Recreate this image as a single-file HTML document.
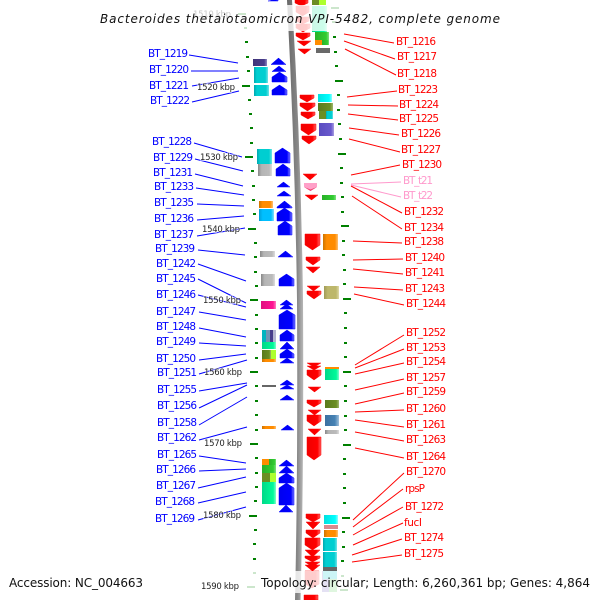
<!DOCTYPE html>
<html><head><meta charset="utf-8"><style>
html,body{margin:0;padding:0;background:#fff}
svg{display:block;filter:blur(.3px)}
text{font-family:"DejaVu Sans","Liberation Sans",sans-serif}
.b text{font-size:10.5px;fill:#0000ff}
.r text{font-size:10.5px;fill:#ff0000}
.k text{font-size:8.5px;fill:#222;stroke:#fff;stroke-width:2px;stroke-opacity:.5;paint-order:stroke}
</style></head><body>
<svg width="600" height="600" viewBox="0 0 600 600" xmlns="http://www.w3.org/2000/svg">
<defs>
<linearGradient id="gB"><stop offset="0" stop-color="#0000f0"/><stop offset=".8" stop-color="#0000ff"/><stop offset="1" stop-color="#8080ff"/></linearGradient>
<linearGradient id="gR"><stop offset="0" stop-color="#f00000"/><stop offset=".75" stop-color="#ff0000"/><stop offset="1" stop-color="#ff6060"/></linearGradient>
<linearGradient id="gBk"><stop offset="0" stop-color="#666"/><stop offset=".65" stop-color="#888"/><stop offset="1" stop-color="#b8b8b8"/></linearGradient>
<linearGradient id="c1"><stop offset="0" stop-color="#00a8b0"/><stop offset=".2" stop-color="#00ced1"/><stop offset=".8" stop-color="#00ced1"/><stop offset="1" stop-color="#70e4e8"/></linearGradient>
<linearGradient id="c2"><stop offset="0" stop-color="#00e0e0"/><stop offset=".8" stop-color="#00ffff"/><stop offset="1" stop-color="#90ffff"/></linearGradient>
<linearGradient id="c3"><stop offset="0" stop-color="#009fd8"/><stop offset=".25" stop-color="#00bfff"/><stop offset=".8" stop-color="#00bfff"/><stop offset="1" stop-color="#80dfff"/></linearGradient>
<linearGradient id="o1"><stop offset="0" stop-color="#cc7400"/><stop offset=".25" stop-color="#ff8c00"/><stop offset=".8" stop-color="#ff8c00"/><stop offset="1" stop-color="#ffc070"/></linearGradient>
<linearGradient id="y1"><stop offset="0" stop-color="#888"/><stop offset=".25" stop-color="#b4b4b4"/><stop offset=".8" stop-color="#bbb"/><stop offset="1" stop-color="#ddd"/></linearGradient>
<linearGradient id="s1"><stop offset="0" stop-color="#00d888"/><stop offset=".8" stop-color="#00fa9a"/><stop offset="1" stop-color="#80fccc"/></linearGradient>
<linearGradient id="g1"><stop offset="0" stop-color="#28b028"/><stop offset=".8" stop-color="#32cd32"/><stop offset="1" stop-color="#80e080"/></linearGradient>
<linearGradient id="l1"><stop offset="0" stop-color="#5a7a1c"/><stop offset=".8" stop-color="#6b8e23"/><stop offset="1" stop-color="#a0b870"/></linearGradient>
<linearGradient id="k1"><stop offset="0" stop-color="#a09a58"/><stop offset=".25" stop-color="#bdb76b"/><stop offset=".8" stop-color="#bdb76b"/><stop offset="1" stop-color="#ddd9a8"/></linearGradient>
<linearGradient id="v1"><stop offset="0" stop-color="#5a4cc0"/><stop offset=".8" stop-color="#6a5acd"/><stop offset="1" stop-color="#a89ee0"/></linearGradient>
<linearGradient id="t1"><stop offset="0" stop-color="#3c70a0"/><stop offset=".7" stop-color="#4682b4"/><stop offset="1" stop-color="#a0c0da"/></linearGradient>
<linearGradient id="d1"><stop offset="0" stop-color="#403478"/><stop offset=".8" stop-color="#483d8b"/><stop offset="1" stop-color="#9088c0"/></linearGradient>
<linearGradient id="p1"><stop offset="0" stop-color="#e01080"/><stop offset=".8" stop-color="#ff1493"/><stop offset="1" stop-color="#ff80c0"/></linearGradient>
</defs>
<rect width="600" height="600" fill="#fff"/>

<!-- backbone -->
<path d="M287,0 Q295,150 297,300 Q298,470 295,600 L300.500,600 Q304,470 303,300 Q301,150 292,0 Z" fill="url(#gBk)"/>

<!-- ticks left -->
<g fill="#008000">
<rect x="244" y="27" width="3" height="2"/><rect x="238" y="13" width="8" height="2"/>
<rect x="245" y="41" width="3" height="2"/><rect x="246" y="56" width="3" height="2"/><rect x="247" y="70" width="3" height="2"/><rect x="242" y="85" width="8" height="2"/>
<rect x="248" y="99" width="3" height="2"/><rect x="249" y="113" width="3" height="2"/><rect x="250" y="127" width="3" height="2"/><rect x="250" y="142" width="3" height="2"/>
<rect x="245" y="156" width="8" height="2"/><rect x="251" y="170" width="3" height="2"/><rect x="252" y="185" width="3" height="2"/><rect x="252" y="199" width="3" height="2"/><rect x="253" y="213" width="3" height="2"/>
<rect x="248" y="228" width="8" height="2"/><rect x="254" y="242" width="3" height="2"/><rect x="254" y="256" width="3" height="2"/><rect x="254" y="271" width="3" height="2"/><rect x="255" y="285" width="3" height="2"/>
<rect x="250" y="299" width="8" height="2"/><rect x="255" y="314" width="3" height="2"/><rect x="255" y="328" width="3" height="2"/><rect x="255" y="342" width="3" height="2"/><rect x="255" y="357" width="3" height="2"/>
<rect x="250" y="371" width="8" height="2"/><rect x="255" y="385" width="3" height="2"/><rect x="255" y="400" width="3" height="2"/><rect x="255" y="414" width="3" height="2"/><rect x="255" y="429" width="3" height="2"/>
<rect x="250" y="443" width="8" height="2"/><rect x="255" y="457" width="3" height="2"/><rect x="255" y="472" width="3" height="2"/><rect x="255" y="486" width="3" height="2"/><rect x="254" y="500" width="3" height="2"/>
<rect x="249" y="515" width="8" height="2"/><rect x="254" y="529" width="3" height="2"/><rect x="253" y="543" width="3" height="2"/><rect x="253" y="558" width="3" height="2"/><rect x="253" y="572" width="3" height="2"/>
<rect x="247" y="586" width="8" height="2"/>
</g>
<!-- ticks right -->
<g fill="#008000">
<rect x="331" y="7" width="8" height="2"/><rect x="332" y="21" width="3" height="2"/>
<rect x="333" y="36" width="3" height="2"/><rect x="334" y="51" width="3" height="2"/><rect x="335" y="65" width="3" height="2"/><rect x="335" y="80" width="8" height="2"/>
<rect x="337" y="94" width="3" height="2"/><rect x="337" y="109" width="3" height="2"/><rect x="338" y="123" width="3" height="2"/><rect x="339" y="138" width="3" height="2"/>
<rect x="338" y="153" width="8" height="2"/><rect x="340" y="167" width="3" height="2"/><rect x="340" y="182" width="3" height="2"/><rect x="341" y="196" width="3" height="2"/><rect x="341" y="211" width="3" height="2"/>
<rect x="341" y="225" width="8" height="2"/><rect x="342" y="240" width="3" height="2"/><rect x="342" y="254" width="3" height="2"/><rect x="343" y="269" width="3" height="2"/><rect x="343" y="283" width="3" height="2"/>
<rect x="343" y="298" width="8" height="2"/><rect x="344" y="312" width="3" height="2"/><rect x="344" y="327" width="3" height="2"/><rect x="344" y="342" width="3" height="2"/><rect x="344" y="356" width="3" height="2"/>
<rect x="343" y="371" width="8" height="2"/><rect x="344" y="385" width="3" height="2"/><rect x="344" y="400" width="3" height="2"/><rect x="344" y="415" width="3" height="2"/><rect x="344" y="429" width="3" height="2"/>
<rect x="343" y="444" width="8" height="2"/><rect x="343" y="458" width="3" height="2"/><rect x="343" y="473" width="3" height="2"/><rect x="343" y="487" width="3" height="2"/><rect x="343" y="502" width="3" height="2"/>
<rect x="342" y="517" width="8" height="2"/><rect x="342" y="531" width="3" height="2"/><rect x="342" y="546" width="3" height="2"/><rect x="341" y="560" width="3" height="2"/><rect x="341" y="575" width="3" height="2"/>
<rect x="340" y="589" width="8" height="2"/>
</g>

<!-- left boxes -->
<rect x="253" y="59" width="14" height="7" fill="url(#d1)"/>
<rect x="254" y="67" width="14" height="16" fill="url(#c1)"/>
<rect x="254" y="85" width="15" height="11" fill="url(#c1)"/>
<rect x="257" y="149" width="15" height="15" fill="url(#c1)"/>
<rect x="258" y="164" width="14" height="12" fill="url(#y1)"/>
<rect x="259" y="201" width="14" height="7" fill="url(#o1)"/>
<rect x="259" y="209" width="15" height="12" fill="url(#c3)"/>
<rect x="260" y="251" width="15" height="6" fill="url(#y1)"/>
<rect x="261" y="274" width="14" height="12" fill="url(#y1)"/>
<rect x="261" y="301" width="15" height="8" fill="url(#p1)"/>
<rect x="262" y="330" width="4" height="12" fill="#00b4c0"/><rect x="266" y="330" width="4" height="12" fill="#6f94b4"/><rect x="270" y="330" width="3" height="12" fill="#483d8b"/><rect x="273" y="330" width="3" height="12" fill="#b4b4d0"/>
<rect x="262" y="342" width="14" height="7" fill="url(#s1)"/>
<rect x="262" y="350" width="9" height="9" fill="url(#l1)"/><rect x="271" y="350" width="5" height="9" fill="#adff2f"/>
<rect x="262" y="359" width="14" height="3" fill="url(#o1)"/>
<rect x="262" y="385" width="14" height="2" fill="#666"/>
<rect x="262" y="426" width="14" height="3" fill="url(#o1)"/>
<rect x="262" y="459" width="7" height="6" fill="#ff8c00"/><rect x="269" y="459" width="7" height="6" fill="url(#g1)"/>
<rect x="262" y="465" width="14" height="8" fill="url(#g1)"/>
<rect x="262" y="473" width="8" height="9" fill="#6b8e23"/><rect x="270" y="473" width="6" height="9" fill="#adff2f"/>
<rect x="262" y="482" width="14" height="22" fill="url(#s1)"/>

<!-- blue arrows -->
<g fill="url(#gB)" stroke="#0000ff" stroke-width=".5">
<polygon points="268,1 273,0 278,0 278,1"/>
<polygon points="278.500,58 286,64.500 271,64.500"/>
<polygon points="279,66 286,71.500 272,71.500"/>
<polygon points="279.500,72 287,77 287,82 272,82 272,77"/>
<polygon points="279.500,85 287,90 287,95 272,95 272,90"/>
<polygon points="282.500,148 290,153 290,163 275,163 275,153"/>
<polygon points="283,164 290,169 290,176 276,176 276,169"/>
<polygon points="283.500,182 290,187 277,187"/>
<polygon points="284,191 291,196 277,196"/>
<polygon points="284.500,201 292,207 292,208 277,208 277,207"/>
<polygon points="284.500,208 292,213 292,221 277,221 277,213"/>
<polygon points="285,221 292,226 292,235 278,235 278,226"/>
<polygon points="285.500,251 293,257 278,257"/>
<polygon points="286.500,274 294,279 294,286 279,286 279,279"/>
<polygon points="286.500,300 293,305 280,305"/>
<polygon points="286.500,304 293,309 280,309"/>
<polygon points="287,310 295,315 295,329 279,329 279,315"/>
<polygon points="287,330 294,335 294,341 280,341 280,335"/>
<polygon points="287,342 294,349 280,349"/>
<polygon points="287,349 294,354 294,358 280,358 280,354"/>
<polygon points="287,358 294,363 280,363"/>
<polygon points="287,380 294,385 280,385"/>
<polygon points="287,385 294,389 280,389"/>
<polygon points="287,395 294,400 280,400"/>
<polygon points="287.500,425 294,430 281,430"/>
<polygon points="286.500,460 294,466 279,466"/>
<polygon points="286.500,466 294,473 279,473"/>
<polygon points="286.500,473 294,478 294,483 279,483 279,478"/>
<polygon points="286.500,483 294,488 294,505 279,505 279,488"/>
<polygon points="286,505 293,512 279,512"/>
</g>

<!-- right boxes -->
<rect x="312" y="0" width="7" height="5" fill="#6b8e23"/><rect x="319" y="0" width="7" height="5" fill="#adff2f"/>
<rect x="312" y="6" width="15" height="26" fill="url(#s1)"/>
<rect x="315" y="32" width="14" height="8" fill="url(#g1)"/>
<rect x="315" y="40" width="7" height="5" fill="#ff8c00"/><rect x="322" y="40" width="7" height="5" fill="url(#g1)"/>
<rect x="316" y="48" width="14" height="5" fill="#696969"/>
<rect x="318" y="94" width="14" height="8" fill="url(#c2)"/>
<rect x="318" y="103" width="15" height="8" fill="url(#l1)"/>
<rect x="319" y="111" width="7" height="8" fill="#6b8e23"/><rect x="326" y="111" width="7" height="8" fill="url(#c1)"/>
<rect x="319" y="123" width="15" height="13" fill="url(#v1)"/>
<rect x="322" y="195" width="14" height="5" fill="url(#g1)"/>
<rect x="323" y="234" width="15" height="16" fill="url(#o1)"/>
<rect x="324" y="286" width="15" height="13" fill="url(#k1)"/>
<rect x="325" y="367" width="14" height="2" fill="#ff8c00"/>
<rect x="325" y="369" width="14" height="11" fill="url(#s1)"/>
<rect x="325" y="400" width="14" height="8" fill="url(#l1)"/>
<rect x="325" y="415" width="14" height="11" fill="url(#t1)"/>
<rect x="325" y="430" width="14" height="4" fill="url(#y1)"/>
<rect x="324" y="515" width="14" height="9" fill="url(#c2)"/>
<rect x="324" y="525" width="14" height="4" fill="#d88a90"/>
<rect x="324" y="530" width="14" height="7" fill="url(#o1)"/>
<rect x="323" y="538" width="14" height="13" fill="url(#c1)"/>
<rect x="323" y="552" width="14" height="15" fill="url(#c1)"/>
<rect x="323" y="567" width="14" height="4" fill="#666"/>
<rect x="322" y="571" width="7" height="21" fill="#7b68c0"/><rect x="329" y="571" width="8" height="21" fill="#60d060"/>
<rect x="323" y="571" width="14" height="8" fill="#00ced1"/>

<!-- red arrows -->
<g fill="url(#gR)" stroke="#ff0000" stroke-width=".5">
<polygon points="295,0 308,0 308,3 301.500,6 295,3"/>
<polygon points="296,6 309,6 309,12 302.500,16 296,12"/>
<polygon points="296,17 309,17 309,21 302.500,24 296,21"/>
<polygon points="296,24 310,24 310,28 303,32 296,28"/>
<polygon points="296,33 310,33 310,36 303,40 296,36"/>
<polygon points="297,41 311,41 304,46"/>
<polygon points="298,49 311,49 304.500,54"/>
<polygon points="300,95 314,95 314,98 307,102 300,98"/>
<polygon points="300,103 315,103 315,106 307.500,111 300,106"/>
<polygon points="301,112 315,112 315,115 308,119 301,115"/>
<polygon points="301,124 316,124 316,130 308.500,135 301,130"/>
<polygon points="302,136 316,136 316,139 309,144 302,139"/>
<polygon points="303,174 317,174 310,180"/>
<polygon points="305,195 318,195 311.500,200"/>
<polygon points="305,234 320,234 320,245 312.500,250 305,245"/>
<polygon points="306,257 320,257 320,260 313,265 306,260"/>
<polygon points="306,267 320,267 313,273"/>
<polygon points="307,286 320,286 313.500,291"/>
<polygon points="307,291 321,291 321,294 314,299 307,294"/>
<polygon points="307,363 321,363 314,367"/>
<polygon points="307,366 321,366 314,370"/>
<polygon points="307,370 321,370 321,375 314,380 307,375"/>
<polygon points="308,387 321,387 314.500,392"/>
<polygon points="307,400 321,400 321,403 314,407 307,403"/>
<polygon points="308,410 321,410 314.500,415"/>
<polygon points="307,415 321,415 321,421 314,426 307,421"/>
<polygon points="308,429 321,429 314.500,435"/>
<polygon points="307,437 321,437 321,455 314,460 307,455"/>
<polygon points="306,514 320,514 320,518 313,522 306,518"/>
<polygon points="306,522 320,522 313,529"/>
<polygon points="306,530 320,530 320,533 313,538 306,533"/>
<polygon points="305,538 320,538 320,545 312.500,550 305,545"/>
<polygon points="305,550 320,550 312.500,557"/>
<polygon points="305,556 320,556 320,558 312.500,562 305,558"/>
<polygon points="305,562 320,562 312.500,567"/>
<polygon points="305,565 320,565 312.500,571"/>
<polygon points="305,571 319,571 319,584 312,588 305,584"/>
<polygon points="304,595 318,595 318,600 304,600"/>
</g>
<polygon points="304,183 317,183 317,187 310.500,191 304,187" fill="#ffa0c8"/>
<polygon points="304,187 310.500,191 317,187 310.500,189.500" fill="#f04070"/>

<!-- blue connectors -->
<g stroke="#0000ff" stroke-width="1" fill="none">
<path d="M189,55L238,63M191,71L238,71M192,86L239,78M192,102L239,91M194,143L242,157M195,159L243,171M195,174L243,186M196,188L244,195M197,204L244,206M197,220L244,216M197,236L245,228M198,250L245,255M198,264L246,281M198,279L246,303M198,295L246,307M199,312L246,320M199,328L246,337M199,343L246,346M199,360L246,354M199,374L247,360M199,391L247,383M199,408L247,385M199,425L247,397M199,440L247,427M199,456L246,463M199,471L246,469M198,488L246,477M198,503L246,492M198,520L246,507"/>
</g>
<!-- red connectors -->
<g stroke="#ff0000" stroke-width="1" fill="none">
<path d="M344,34L394,43M344,41L395,59M345,49L396,75M347,97L397,91M348,105L398,106M348,114L398,120M349,128L399,135M349,139L400,152M351,175L400,165M351,186L402,213M352,196L402,229M353,241L402,243M353,260L403,259M353,269L403,274M354,287L403,290M354,294L404,305M355,365L404,335M355,368L404,349M355,374L404,363M355,390L404,379M355,404L404,393M355,412L404,410M355,420L404,427M355,432L404,441M355,448L404,458M353,520L404,473M353,527L403,489M353,535L403,507M353,545L403,523M352,555L402,539M352,562L402,555"/>
</g>
<path d="M351,184L401,182M351,185L401,197" stroke="#ff99cc" stroke-width="1" fill="none"/>

<!-- pale overlays behind title/legend -->
<rect x="0" y="5" width="600" height="26" fill="#fff" fill-opacity=".8"/>
<rect x="0" y="571" width="600" height="22" fill="#fff" fill-opacity=".8"/>

<!-- kbp labels -->
<g class="k">
<text x="193" y="17" textLength="38" opacity=".25">1510 kbp</text>
<text x="197" y="90" textLength="38">1520 kbp</text>
<text x="200" y="160" textLength="38">1530 kbp</text>
<text x="202" y="232" textLength="38">1540 kbp</text>
<text x="203" y="303" textLength="38">1550 kbp</text>
<text x="204" y="375" textLength="38">1560 kbp</text>
<text x="204" y="446" textLength="38">1570 kbp</text>
<text x="203" y="518" textLength="38">1580 kbp</text>
<text x="201" y="589" textLength="38">1590 kbp</text>
</g>

<!-- blue labels -->
<g class="b">
<text x="148" y="57" textLength="40">BT_1219</text>
<text x="149" y="73" textLength="40">BT_1220</text>
<text x="149" y="89" textLength="40">BT_1221</text>
<text x="150" y="104" textLength="40">BT_1222</text>
<text x="152" y="145" textLength="40">BT_1228</text>
<text x="153" y="161" textLength="40">BT_1229</text>
<text x="153" y="176" textLength="40">BT_1231</text>
<text x="154" y="190" textLength="40">BT_1233</text>
<text x="154" y="206" textLength="40">BT_1235</text>
<text x="154" y="222" textLength="40">BT_1236</text>
<text x="154" y="238" textLength="40">BT_1237</text>
<text x="155" y="252" textLength="40">BT_1239</text>
<text x="156" y="267" textLength="40">BT_1242</text>
<text x="156" y="282" textLength="40">BT_1245</text>
<text x="156" y="298" textLength="40">BT_1246</text>
<text x="156" y="315" textLength="40">BT_1247</text>
<text x="156" y="330" textLength="40">BT_1248</text>
<text x="156" y="345" textLength="40">BT_1249</text>
<text x="156" y="362" textLength="40">BT_1250</text>
<text x="157" y="376" textLength="40">BT_1251</text>
<text x="157" y="393" textLength="40">BT_1255</text>
<text x="157" y="409" textLength="40">BT_1256</text>
<text x="157" y="426" textLength="40">BT_1258</text>
<text x="157" y="441" textLength="40">BT_1262</text>
<text x="157" y="458" textLength="40">BT_1265</text>
<text x="156" y="473" textLength="40">BT_1266</text>
<text x="156" y="489" textLength="40">BT_1267</text>
<text x="155" y="505" textLength="40">BT_1268</text>
<text x="155" y="522" textLength="40">BT_1269</text>
</g>

<!-- red labels -->
<g class="r">
<text x="396" y="45" textLength="40">BT_1216</text>
<text x="397" y="60" textLength="40">BT_1217</text>
<text x="397" y="77" textLength="40">BT_1218</text>
<text x="398" y="93" textLength="40">BT_1223</text>
<text x="399" y="108" textLength="40">BT_1224</text>
<text x="399" y="122" textLength="40">BT_1225</text>
<text x="401" y="137" textLength="40">BT_1226</text>
<text x="401" y="153" textLength="40">BT_1227</text>
<text x="402" y="168" textLength="40">BT_1230</text>
<text x="403" y="184" textLength="30" style="fill:#ff99cc">BT_t21</text>
<text x="403" y="199" textLength="30" style="fill:#ff99cc">BT_t22</text>
<text x="404" y="215" textLength="40">BT_1232</text>
<text x="404" y="231" textLength="40">BT_1234</text>
<text x="404" y="245" textLength="40">BT_1238</text>
<text x="405" y="261" textLength="40">BT_1240</text>
<text x="405" y="276" textLength="40">BT_1241</text>
<text x="405" y="292" textLength="40">BT_1243</text>
<text x="406" y="307" textLength="40">BT_1244</text>
<text x="406" y="336" textLength="40">BT_1252</text>
<text x="406" y="351" textLength="40">BT_1253</text>
<text x="406" y="365" textLength="40">BT_1254</text>
<text x="406" y="381" textLength="40">BT_1257</text>
<text x="406" y="395" textLength="40">BT_1259</text>
<text x="406" y="412" textLength="40">BT_1260</text>
<text x="406" y="428" textLength="40">BT_1261</text>
<text x="406" y="443" textLength="40">BT_1263</text>
<text x="406" y="460" textLength="40">BT_1264</text>
<text x="406" y="475" textLength="40">BT_1270</text>
<text x="405" y="492" textLength="20">rpsP</text>
<text x="405" y="510" textLength="39">BT_1272</text>
<text x="404" y="526" textLength="18">fucI</text>
<text x="404" y="541" textLength="40">BT_1274</text>
<text x="404" y="557" textLength="40">BT_1275</text>
</g>

<!-- title + legend -->
<text x="100" y="23" font-size="12" font-style="italic" fill="#111" textLength="400">Bacteroides thetaiotaomicron VPI-5482, complete genome</text>
<text x="9" y="587" font-size="12" fill="#111" textLength="134">Accession: NC_004663</text>
<text x="261" y="587" font-size="12" fill="#111" textLength="329">Topology: circular; Length: 6,260,361 bp; Genes: 4,864</text>
</svg>
</body></html>
